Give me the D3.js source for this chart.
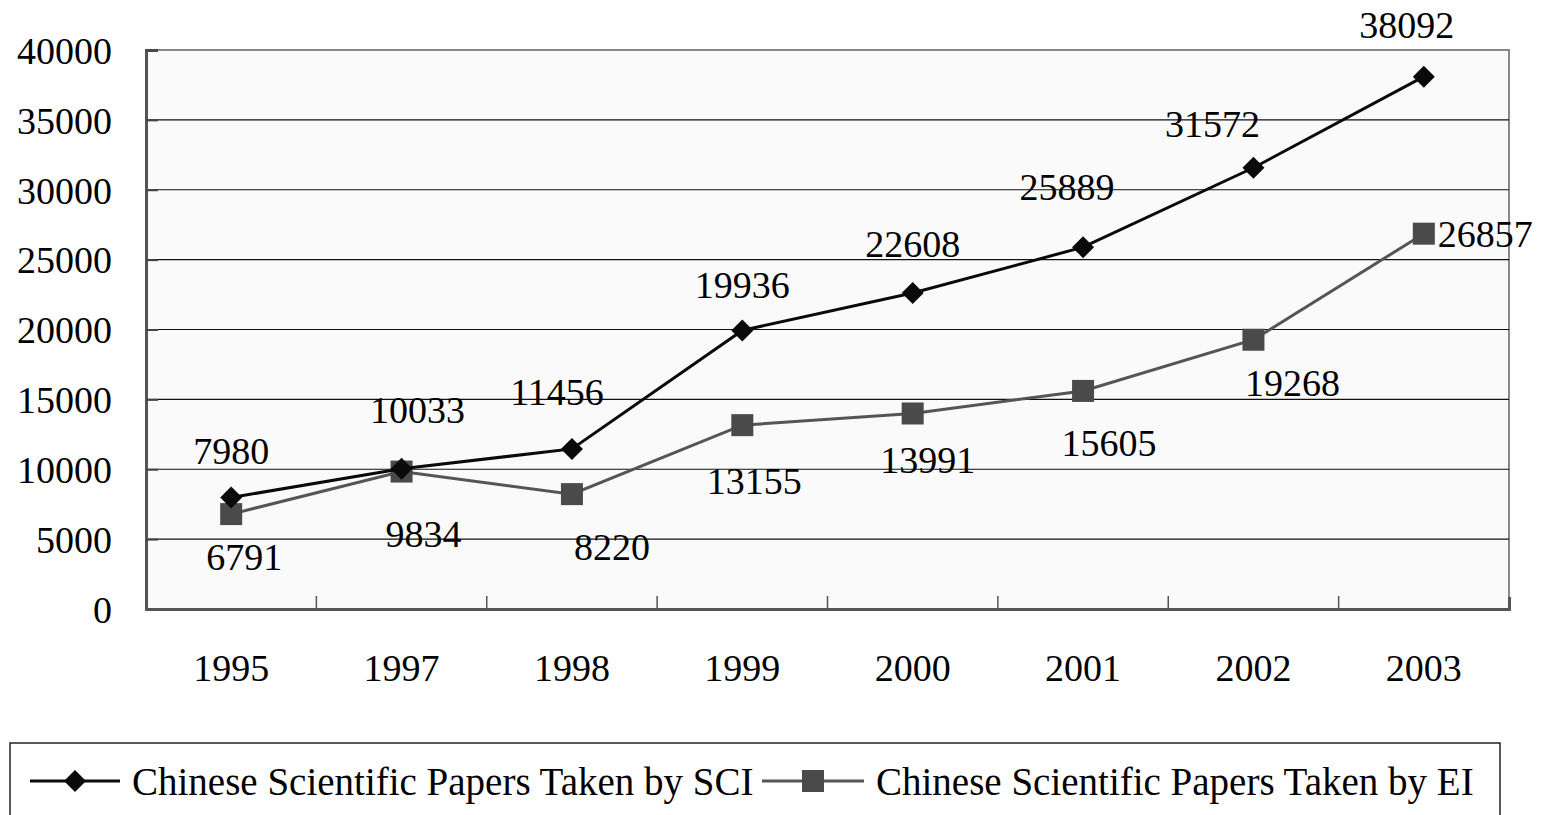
<!DOCTYPE html>
<html>
<head>
<meta charset="utf-8">
<script src="https://cdn.jsdelivr.net/npm/d3@7"></script>
<style>
  body { margin: 0; background: #fff; }
  svg text { font-family: "Liberation Serif", "Times New Roman", serif; fill: #000; }
</style>
</head>
<body>
<svg id="chart" width="1542" height="815"></svg>
<script>
const years = ["1995", "1997", "1998", "1999", "2000", "2001", "2002", "2003"];
const sciValues = [7980, 10033, 11456, 19936, 22608, 25889, 31572, 38092];
const eiValues = [6791, 9834, 8220, 13155, 13991, 15605, 19268, 26857];
const yTicks = [0, 5000, 10000, 15000, 20000, 25000, 30000, 35000, 40000];
const seriesNames = ["Chinese Scientific Papers Taken by SCI", "Chinese Scientific Papers Taken by EI"];

// hand-placed label nudges, as in the original (dx, dy from the point)
const sciNudge = [[0, -47], [16, -59], [-15, -57], [0, -46], [0, -49], [-16, -61], [-41, -44], [-17, -52]];
const eiNudge = [[13, 43], [22, 62], [40, 53], [12, 56], [15, 46], [26, 52], [39, 43], [62, 0]];

const fontSize = 38;
const plot = { left: 146, top: 50, right: 1509, bottom: 609 };

const svg = d3.select("#chart");

const x = d3.scaleBand().domain(years).range([plot.left, plot.right]);
const y = d3.scaleLinear().domain([0, 40000]).range([plot.bottom, plot.top]);
const cx = d => x(d) + x.bandwidth() / 2;

// plot background
svg.append("rect")
    .attr("x", plot.left).attr("y", plot.top)
    .attr("width", plot.right - plot.left).attr("height", plot.bottom - plot.top)
    .attr("fill", "#fafafa")
    .attr("stroke", "#888").attr("stroke-width", 2);

// gridlines
svg.append("g")
    .selectAll("line")
    .data(yTicks.filter(t => t > 0 && t < 40000))
    .enter().append("line")
    .attr("x1", plot.left).attr("x2", plot.right)
    .attr("y1", d => y(d)).attr("y2", d => y(d))
    .attr("stroke", "#111").attr("stroke-width", 1.2);

// y axis
const yAxis = svg.append("g")
    .attr("transform", `translate(${plot.left},0)`)
    .call(d3.axisRight(y).tickValues(yTicks).tickSize(12).tickFormat(d3.format("d")));
yAxis.select(".domain").attr("stroke", "#555").attr("stroke-width", 3);
yAxis.selectAll(".tick line").attr("stroke", "#444").attr("stroke-width", 2);
yAxis.selectAll(".tick text")
    .attr("x", -34).attr("text-anchor", "end")
    .attr("dy", "0.35em")
    .style("font-size", fontSize + "px")
    .style("font-family", "Liberation Serif");

// x axis
const xAxis = svg.append("g")
    .attr("transform", `translate(0,${plot.bottom})`)
    .call(d3.axisTop(x).tickSize(12).tickFormat(""));
xAxis.select(".domain").attr("stroke", "#555").attr("stroke-width", 3);
xAxis.selectAll(".tick").remove();
// category ticks sit between bands
xAxis.selectAll("line.cat")
    .data(years.slice(1))
    .enter().append("line")
    .attr("class", "cat")
    .attr("x1", d => x(d)).attr("x2", d => x(d))
    .attr("y1", 0).attr("y2", -13)
    .attr("stroke", "#555").attr("stroke-width", 1.5);
svg.append("g")
    .selectAll("text")
    .data(years)
    .enter().append("text")
    .attr("x", d => cx(d))
    .attr("y", 681)
    .attr("text-anchor", "middle")
    .style("font-size", fontSize + "px")
    .text(d => d);

const line = d3.line().x((d, i) => cx(years[i])).y(d => y(d));

// EI series
svg.append("path")
    .attr("d", line(eiValues))
    .attr("fill", "none").attr("stroke", "#555").attr("stroke-width", 3);
svg.append("g")
    .selectAll("rect")
    .data(eiValues)
    .enter().append("rect")
    .attr("x", (d, i) => cx(years[i]) - 11)
    .attr("y", d => y(d) - 11)
    .attr("width", 22).attr("height", 22)
    .attr("fill", "#4a4a4a");

// SCI series
svg.append("path")
    .attr("d", line(sciValues))
    .attr("fill", "none").attr("stroke", "#0a0a0a").attr("stroke-width", 3);
const diamond = d3.symbol().type(d3.symbolSquare).size(242);
svg.append("g")
    .selectAll("path")
    .data(sciValues)
    .enter().append("path")
    .attr("d", diamond)
    .attr("transform", (d, i) => `translate(${cx(years[i])},${y(d)}) rotate(45)`)
    .attr("fill", "#0a0a0a");

// data labels
svg.append("g")
    .selectAll("text")
    .data(sciValues)
    .enter().append("text")
    .attr("x", (d, i) => cx(years[i]) + sciNudge[i][0])
    .attr("y", (d, i) => y(d) + sciNudge[i][1])
    .attr("dy", "0.35em")
    .attr("text-anchor", "middle")
    .style("font-size", fontSize + "px")
    .text(d => d);
svg.append("g")
    .selectAll("text")
    .data(eiValues)
    .enter().append("text")
    .attr("x", (d, i) => cx(years[i]) + eiNudge[i][0])
    .attr("y", (d, i) => y(d) + eiNudge[i][1])
    .attr("dy", "0.35em")
    .attr("text-anchor", (d, i) => i === eiValues.length - 1 ? "start" : "middle")
    .attr("dx", (d, i) => i === eiValues.length - 1 ? -48 : 0)
    .style("font-size", fontSize + "px")
    .text(d => d);

// legend
const legend = svg.append("g");
legend.append("rect")
    .attr("x", 10).attr("y", 743)
    .attr("width", 1490).attr("height", 100)
    .attr("fill", "#fff").attr("stroke", "#222").attr("stroke-width", 1.5);
const legendY = 781;
const legendItems = [
    { name: seriesNames[0], x0: 30, x1: 120, color: "#0a0a0a", mark: "diamond", tx: 132 },
    { name: seriesNames[1], x0: 762, x1: 864, color: "#555", mark: "square", tx: 876 }
];
legendItems.forEach(it => {
    legend.append("line")
        .attr("x1", it.x0).attr("x2", it.x1)
        .attr("y1", legendY).attr("y2", legendY)
        .attr("stroke", it.color).attr("stroke-width", 3);
    const mx = (it.x0 + it.x1) / 2;
    if (it.mark === "diamond") {
        legend.append("path")
            .attr("d", diamond)
            .attr("transform", `translate(${mx},${legendY}) rotate(45)`)
            .attr("fill", "#0a0a0a");
    } else {
        legend.append("rect")
            .attr("x", mx - 11).attr("y", legendY - 11)
            .attr("width", 22).attr("height", 22)
            .attr("fill", "#4a4a4a");
    }
    legend.append("text")
        .attr("x", it.tx).attr("y", legendY)
        .attr("dy", "0.35em")
        .style("font-size", "39px")
        .text(it.name);
});
</script>
</body>
</html>
